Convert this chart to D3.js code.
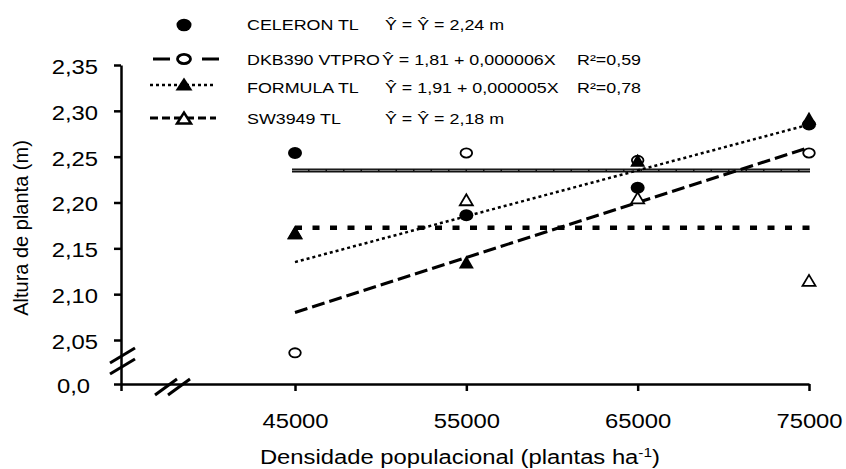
<!DOCTYPE html>
<html>
<head>
<meta charset="utf-8">
<script src="https://cdn.jsdelivr.net/npm/d3@7"></script>
<style>
  body { margin: 0; background: #fff; }
  svg text { font-family: "Liberation Sans", Arial, sans-serif; fill: #000; }
</style>
</head>
<body>
<div id="chart"></div>
<script>
// plant density (plants/ha) and plant height (m) per hybrid
const densities = [45000, 55000, 65000, 75000];
const celeron = [2.254, 2.186, 2.216, 2.285];
const dkb390 = [2.036, 2.254, 2.246, 2.254];
const formula = [2.167, 2.135, 2.246, 2.292];
const sw3949 = [2.167, 2.203, 2.205, 2.115];

// fitted models
const celeronMean = 2.235;
const sw3949Mean = 2.1725;
const dkbFit = [1.81, 0.000006];
const formulaFit = [1.91, 0.000005];

const xTicks = [0, 45000, 55000, 65000, 75000];
const yTicks = [0, 2.05, 2.10, 2.15, 2.20, 2.25, 2.30, 2.35];

const legendNames = ['CELERON TL', 'DKB390 VTPRO', 'FORMULA TL', 'SW3949 TL'];
const legendEquations = ['Ŷ = Ŷ = 2,24 m', 'Ŷ = 1,81 + 0,000006X', 'Ŷ = 1,91 + 0,000005X', 'Ŷ = Ŷ = 2,18 m'];
const legendR2 = ['', 'R²=0,59', 'R²=0,78', ''];

const width = 846, height = 469;
const stretchK = 1.19; // the figure is a bit wider than tall

const svg = d3.select('#chart').append('svg')
  .attr('width', width)
  .attr('height', height);

// broken axes: piecewise scales collapse the 0..break part onto the origin
const x = d3.scaleLinear().domain([0, 34844, 75000]).range([121, 121, 809]);
const y = d3.scaleLinear().domain([0, 2.002, 2.35]).range([384, 384, 65]);

function stretch(sel, k) {
  sel.each(function () {
    const w = this.getComputedTextLength();
    d3.select(this).attr('textLength', w * k).attr('lengthAdjust', 'spacingAndGlyphs');
  });
}

const fmtY = d => d === 0 ? '0,0' : d.toFixed(2).replace('.', ',');

// X axis
const gx = svg.append('g')
  .attr('transform', `translate(0, ${y(0)})`)
  .call(d3.axisBottom(x).tickValues(xTicks).tickFormat(d => d === 0 ? '' : d)
    .tickSize(7).tickSizeOuter(0).tickPadding(23));

// Y axis
const gy = svg.append('g')
  .attr('transform', `translate(${x(0)}, 0)`)
  .call(d3.axisLeft(y).tickValues(yTicks).tickFormat(fmtY)
    .tickSize(7).tickSizeOuter(0).tickPadding(16));

[gx, gy].forEach(g => {
  g.selectAll('path, line').attr('stroke', '#000').attr('stroke-width', 2.5);
  g.selectAll('text').attr('font-size', 20).attr('fill', '#000')
    .attr('font-family', '"Liberation Sans", Arial, sans-serif');
});
gy.selectAll('text').attr('dy', '0.42em');
gy.selectAll('.tick').filter(d => d === 0).select('text').attr('dx', -8);
stretch(gx.selectAll('text'), stretchK);
stretch(gy.selectAll('text'), stretchK);

// axis break marks
const brk = svg.append('g').attr('stroke', '#000').attr('stroke-width', 3);
const yb = (y(2.05) + y(0)) / 2;
[-6, 5].forEach(o => {
  brk.append('line')
    .attr('x1', x(0) - 11).attr('y1', yb + o + 7)
    .attr('x2', x(0) + 14).attr('y2', yb + o - 8);
});
[0, 13].forEach(o => {
  brk.append('line')
    .attr('x1', x(0) + 34 + o).attr('y1', y(0) + 11)
    .attr('x2', x(0) + 56 + o).attr('y2', y(0) - 5);
});

// axis titles
svg.append('text')
  .attr('transform', `translate(28, 228) rotate(-90)`)
  .attr('text-anchor', 'middle')
  .attr('font-size', 20)
  .text('Altura de planta (m)');

const xt = svg.append('text')
  .attr('x', 460).attr('y', 464)
  .attr('text-anchor', 'middle')
  .attr('font-size', 20);
xt.append('tspan').text('Densidade populacional (plantas ha');
xt.append('tspan').attr('font-size', 13).attr('dy', -7).text('-1');
xt.append('tspan').attr('dy', 7).text(')');
stretch(xt, stretchK);

// fitted lines
const x0 = densities[0], x1 = densities[densities.length - 1];
const plot = svg.append('g');

// CELERON mean: solid, double-edged look
plot.append('line')
  .attr('x1', x(x0) - 3).attr('x2', x(x1) + 1)
  .attr('y1', y(celeronMean)).attr('y2', y(celeronMean))
  .attr('stroke', '#111').attr('stroke-width', 4);
plot.append('line')
  .attr('x1', x(x0) - 3).attr('x2', x(x1) + 1)
  .attr('y1', y(celeronMean)).attr('y2', y(celeronMean))
  .attr('stroke', '#888').attr('stroke-width', 1)
  .attr('stroke-dasharray', '16,1.5');

// SW3949 mean: square dots
plot.append('line')
  .attr('x1', x(x0)).attr('x2', x(x1) + 1)
  .attr('y1', y(sw3949Mean)).attr('y2', y(sw3949Mean))
  .attr('stroke', '#000').attr('stroke-width', 4.5)
  .attr('stroke-dasharray', '7,10.5');

// DKB390 fit: long dashes
plot.append('line')
  .attr('x1', x(x0)).attr('y1', y(dkbFit[0] + dkbFit[1] * x0))
  .attr('x2', x(x1)).attr('y2', y(dkbFit[0] + dkbFit[1] * x1))
  .attr('stroke', '#000').attr('stroke-width', 3)
  .attr('stroke-dasharray', '13,5');

// FORMULA fit: dotted
plot.append('line')
  .attr('x1', x(x0)).attr('y1', y(formulaFit[0] + formulaFit[1] * x0))
  .attr('x2', x(x1)).attr('y2', y(formulaFit[0] + formulaFit[1] * x1))
  .attr('stroke', '#000').attr('stroke-width', 2.5)
  .attr('stroke-dasharray', '3,3');

// markers
const tri = (w, h) => `M${-w / 2},${h / 2}L${w / 2},${h / 2}L0,${-h / 2}Z`;
const pts = arr => densities.map((d, i) => ({ x: d, y: arr[i] }));

plot.selectAll('path.sw').data(pts(sw3949)).join('path')
  .attr('class', 'sw')
  .attr('d', tri(13, 11))
  .attr('transform', d => `translate(${x(d.x)}, ${y(d.y)})`)
  .attr('fill', '#fff').attr('stroke', '#000').attr('stroke-width', 1.8);

plot.selectAll('ellipse.dkb').data(pts(dkb390)).join('ellipse')
  .attr('class', 'dkb')
  .attr('cx', d => x(d.x)).attr('cy', d => y(d.y))
  .attr('rx', 5.8).attr('ry', 4.6)
  .attr('fill', '#fff').attr('stroke', '#000').attr('stroke-width', 1.8);

plot.selectAll('ellipse.cel').data(pts(celeron)).join('ellipse')
  .attr('class', 'cel')
  .attr('cx', d => x(d.x)).attr('cy', d => y(d.y))
  .attr('rx', 7).attr('ry', 6)
  .attr('fill', '#000');

plot.selectAll('path.for').data(pts(formula)).join('path')
  .attr('class', 'for')
  .attr('d', tri(15, 13))
  .attr('transform', d => `translate(${x(d.x)}, ${y(d.y)})`)
  .attr('fill', '#000');

// legend
const rowY = [25, 59, 84, 118];
const baseY = [30, 65, 93, 124];
const lg = svg.append('g');
const mx = 184;

lg.append('ellipse').attr('cx', mx).attr('cy', rowY[0]).attr('rx', 7.5).attr('ry', 6.3).attr('fill', '#000');

lg.append('line').attr('x1', 153).attr('x2', 219).attr('y1', rowY[1]).attr('y2', rowY[1])
  .attr('stroke', '#000').attr('stroke-width', 3).attr('stroke-dasharray', '17,32,17');
lg.append('ellipse').attr('cx', mx).attr('cy', rowY[1]).attr('rx', 6.5).attr('ry', 4.6)
  .attr('fill', '#fff').attr('stroke', '#000').attr('stroke-width', 2.8);

lg.append('line').attr('x1', 150).attr('x2', 216).attr('y1', rowY[2] + 1).attr('y2', rowY[2] + 1)
  .attr('stroke', '#000').attr('stroke-width', 2.5).attr('stroke-dasharray', '3,3');
lg.append('path').attr('d', tri(17, 13)).attr('transform', `translate(${mx}, ${rowY[2]})`).attr('fill', '#000');

lg.append('line').attr('x1', 150).attr('x2', 216).attr('y1', rowY[3]).attr('y2', rowY[3])
  .attr('stroke', '#000').attr('stroke-width', 3).attr('stroke-dasharray', '8,4');
lg.append('path').attr('d', tri(14, 11)).attr('transform', `translate(${mx}, ${rowY[3]})`)
  .attr('fill', '#fff').attr('stroke', '#000').attr('stroke-width', 2.5);

const eqX = [385, 382, 385, 385];
legendNames.forEach((name, i) => {
  const t = [
    lg.append('text').attr('x', 247).attr('y', baseY[i]).attr('font-size', 15).text(name),
    lg.append('text').attr('x', eqX[i]).attr('y', baseY[i]).attr('font-size', 15).text(legendEquations[i])
  ];
  if (legendR2[i]) {
    t.push(lg.append('text').attr('x', 577).attr('y', baseY[i]).attr('font-size', 15).text(legendR2[i]));
  }
  t.forEach(s => stretch(s, stretchK));
});
</script>
</body>
</html>
